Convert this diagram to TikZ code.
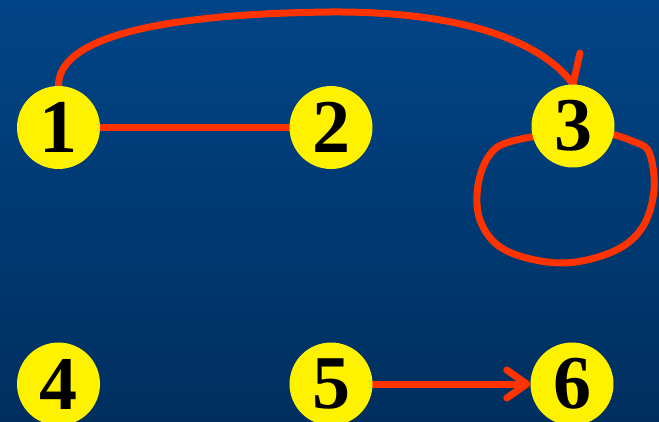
\documentclass[tikz,border=0pt]{standalone}
\usepackage{fontspec}
\setmainfont{Liberation Serif}
\usetikzlibrary{arrows.meta}
\definecolor{bgtop}{HTML}{014487}
\definecolor{bgbot}{HTML}{002F5E}
\definecolor{edgered}{HTML}{FF3300}
\pgfdeclarelayer{backdrop}
\pgfdeclarelayer{edges}
\pgfsetlayers{backdrop,edges,main}
\tikzset{
  vertex/.style={circle, fill=yellow, draw=none, minimum size=83pt, inner sep=0pt,
    font=\fontsize{76}{76}\selectfont\bfseries, text=black},
  link/.style={draw=edgered, line width=7pt, line cap=round, line join=round},
  tip/.style={-{Straight Barb[length=20pt,width=28pt,line cap=round,line join=round]}}
}
\begin{document}
\begin{tikzpicture}[x=1pt,y=-1pt]
  % background
  \begin{pgfonlayer}{backdrop}
    \shade[top color=bgtop, bottom color=bgbot] (0,0) rectangle (659,422);
  \end{pgfonlayer}
  \useasboundingbox (0,0) rectangle (659,422);

  % vertices
  \node[vertex] (n1) at (58.5,127.5) {1};
  \node[vertex] (n2) at (331,127.5) {2};
  \node[vertex] (n3) at (573,126) {3};
  \node[vertex] (n4) at (58.5,384) {4};
  \node[vertex] (n5) at (331,384) {5};
  \node[vertex] (n6) at (572,384) {6};

  \coordinate (barb) at (580,53);

  \begin{pgfonlayer}{edges}
    % edge 1 -- 2
    \draw[link] (n1.east) -- (n2.west);
    % arc 1 -> 3 with a single barb
    \draw[link] (n1.north) .. controls (58,40) and (150,14) .. (330,12)
                .. controls (470,11) and (545,45) .. (n3.north);
    \draw[link] (barb) -- (n3.north);
    % self loop on 3
    \draw[link] plot[smooth, tension=0.6] coordinates {
      (n3.195) (496,148) (479,180) (480,220) (505,250) (560,263)
      (612,252) (642,228) (654,190) (649,152) (632,141) (n3.-12)};
    % arc 5 -> 6
    \draw[link, tip] (n5.east) -- (n6.west);
  \end{pgfonlayer}
\end{tikzpicture}
\end{document}
